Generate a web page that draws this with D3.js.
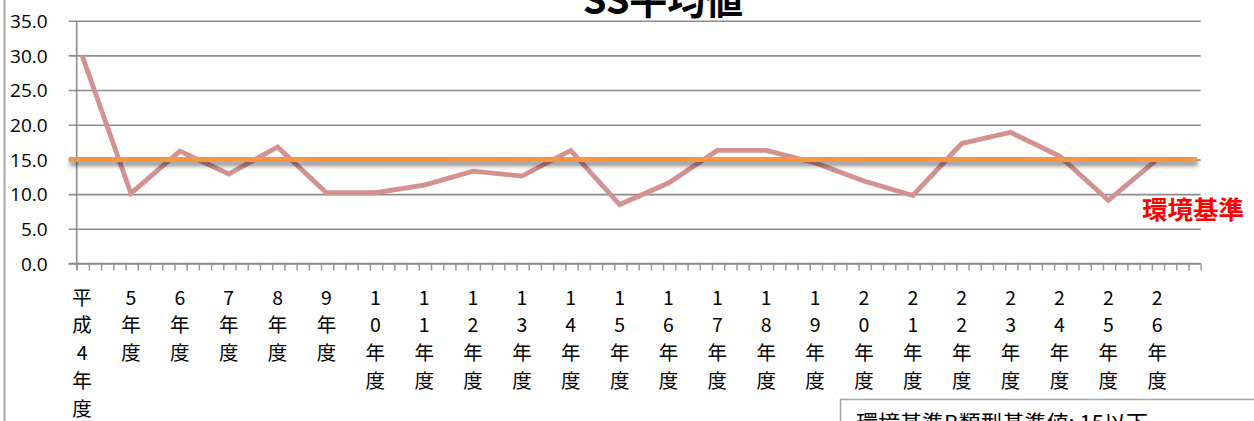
<!DOCTYPE html>
<html>
<head>
<meta charset="utf-8">
<script src="https://cdn.jsdelivr.net/npm/d3@7/dist/d3.min.js"></script>
<style>
  html, body { margin: 0; padding: 0; background: #fff; overflow: hidden; }
  svg { display: block; }
</style>
</head>
<body>
<script>
// SS annual mean, fiscal years Heisei 4 to 26
const years = ["平成4年度","5年度","6年度","7年度","8年度","9年度","10年度","11年度","12年度","13年度","14年度","15年度","16年度","17年度","18年度","19年度","20年度","21年度","22年度","23年度","24年度","25年度","26年度"];
const ssValues = [30.0,10.1,16.2,12.9,16.8,10.2,10.2,11.3,13.3,12.6,16.3,8.5,11.6,16.3,16.3,14.5,11.9,9.8,17.3,18.9,15.5,9.1,15.0];
const standardValue = 15;
const yTicks = [0,5,10,15,20,25,30,35];
const titleText = "SS平均値";
const standardLabel = "環境基準";
const noteText = "環境基準B類型基準値: 15以下";

const W = 1254, H = 421;
const svg = d3.select("body").append("svg").attr("width", W).attr("height", H);

const plotLeft = 76.7, plotRight = 1200.7, plotTop = 20.7, plotBottom = 263.5;
const nSlots = years.length;           // axis spans one slot per year
const pointOffset = 0.11;              // points sit just after each slot start

const x = d3.scaleLinear().domain([0, nSlots]).range([plotLeft, plotRight]);
const y = d3.scaleLinear().domain([0, 35]).range([plotBottom, plotTop]);

// soft drop shadow for the standard line (user-space region, since the line has no height)
const defs = svg.append("defs");
const shadow = defs.append("filter").attr("id", "lineShadow").attr("filterUnits", "userSpaceOnUse")
  .attr("x", 40).attr("y", y(standardValue) - 20).attr("width", 1200).attr("height", 40);
shadow.append("feGaussianBlur").attr("in", "SourceAlpha").attr("stdDeviation", 2.2).attr("result", "b");
shadow.append("feOffset").attr("in", "b").attr("dx", 1).attr("dy", 4).attr("result", "o");
shadow.append("feComponentTransfer").attr("in", "o").attr("result", "s")
  .append("feFuncA").attr("type", "linear").attr("slope", 0.45);
const mg = shadow.append("feMerge");
mg.append("feMergeNode").attr("in", "s");
mg.append("feMergeNode").attr("in", "SourceGraphic");

// outer frame edge on the left
svg.append("line").attr("x1", 4.5).attr("x2", 4.5).attr("y1", 0).attr("y2", H)
  .attr("stroke", "#a6a6a6").attr("stroke-width", 2);

// title
svg.append("text").attr("x", 663).attr("y", 14).attr("text-anchor", "middle")
  .attr("font-family", "'Noto Sans CJK JP', sans-serif").attr("font-weight", "bold")
  .attr("font-size", 38).attr("fill", "#000").text(titleText);

// horizontal gridlines with left ticks
const yAxis = d3.axisLeft(y).tickValues(yTicks).tickSize(-(plotRight - plotLeft)).tickPadding(0)
  .tickFormat(d => d3.format(".1f")(d));
const yg = svg.append("g").attr("transform", `translate(${plotLeft},0)`).call(yAxis);
yg.select(".domain").remove();
yg.selectAll(".tick line").attr("stroke", "#8c8c8c").attr("stroke-width", 1.6)
  .attr("x1", -8);
yg.selectAll(".tick text").attr("x", -29).attr("dy", "0.36em")
  .attr("font-family", "'Open Sans', 'Noto Sans', sans-serif").attr("font-size", 19).attr("fill", "#000");

// vertical axis line
svg.append("line").attr("x1", plotLeft).attr("x2", plotLeft).attr("y1", plotTop).attr("y2", plotBottom + 6)
  .attr("stroke", "#8c8c8c").attr("stroke-width", 1.6);

// horizontal axis with minor ticks
const minorTicks = d3.range(0, nSlots + 0.001, 0.25);
const xAxis = d3.axisBottom(x).tickValues(minorTicks).tickSize(7).tickFormat("");
const xg = svg.append("g").attr("transform", `translate(0,${plotBottom})`).call(xAxis);
xg.select(".domain").attr("d", `M${plotLeft - 8},0H${plotRight}`).attr("stroke", "#8c8c8c").attr("stroke-width", 1.6);
xg.selectAll(".tick line").attr("stroke", "#9a9a9a").attr("stroke-width", 1.5);

// category labels, stacked one character per line
const labelG = svg.append("g").attr("font-family", "'Noto Sans CJK JP', sans-serif")
  .attr("font-size", 19.5).attr("fill", "#000").attr("text-anchor", "middle");
years.forEach((lab, i) => {
  const cx = x(i + pointOffset);
  Array.from(lab).forEach((ch, k) => {
    labelG.append("text").attr("x", cx).attr("y", 297.5 + k * 27.8).attr("dy", "0.36em").text(ch);
  });
});

// SS series line
const line = d3.line().x((d, i) => x(i + pointOffset)).y(d => y(d));
svg.append("path").datum(ssValues).attr("d", line)
  .attr("fill", "none").attr("stroke", "#d39190").attr("stroke-width", 4.8)
  .attr("stroke-linejoin", "miter");

// environmental standard line
svg.append("line").attr("x1", plotLeft - 8).attr("x2", 1197).attr("y1", y(standardValue)).attr("y2", y(standardValue))
  .attr("stroke", "#f79646").attr("stroke-width", 5).attr("filter", "url(#lineShadow)");

svg.append("text").attr("x", 1193).attr("y", 210).attr("dy", "0.36em").attr("text-anchor", "middle")
  .attr("font-family", "'Noto Sans CJK JP', sans-serif").attr("font-weight", "bold")
  .attr("font-size", 25.5).attr("fill", "#ff0000").text(standardLabel);

// note box
svg.append("rect").attr("x", 840.5).attr("y", 399.5).attr("width", 430).attr("height", 60)
  .attr("fill", "#fff").attr("stroke", "#a6a6a6").attr("stroke-width", 1.5);
svg.append("text").attr("x", 856).attr("y", 431)
  .attr("font-family", "'Noto Sans CJK JP', sans-serif").attr("font-size", 22).attr("fill", "#000")
  .text(noteText);
</script>
</body>
</html>
